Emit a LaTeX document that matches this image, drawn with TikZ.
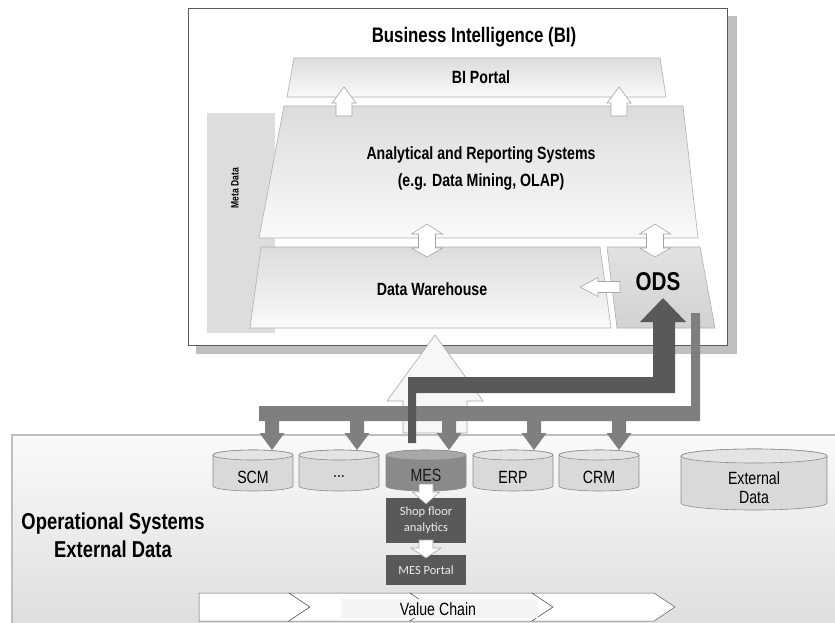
\documentclass[tikz,border=0pt]{standalone}
\usepackage{fontspec}
\setmainfont{Liberation Sans}[FakeStretch=0.8]
\newfontfamily\calib{Carlito}

\definecolor{boxline}{HTML}{595959}
\definecolor{shadowgray}{HTML}{BFBFBF}
\definecolor{metagray}{HTML}{DDDDDD}
\definecolor{layertop}{HTML}{DCDCDC}
\definecolor{layerline}{HTML}{B0B0B0}
\definecolor{odstop}{HTML}{E2E2E2}
\definecolor{odsbot}{HTML}{D2D2D2}
\definecolor{arrline}{HTML}{A6A6A6}
\definecolor{feedgray}{HTML}{7F7F7F}
\definecolor{darkgray}{HTML}{595959}
\definecolor{optop}{HTML}{FAFAFA}
\definecolor{opbot}{HTML}{DCDCDC}
\definecolor{opline}{HTML}{BFBFBF}
\definecolor{cylbody}{HTML}{D9D9D9}
\definecolor{cyltop}{HTML}{E4E4E4}
\definecolor{cylline}{HTML}{8C8C8C}
\definecolor{mesbody}{HTML}{8A8A8A}
\definecolor{mestop}{HTML}{A8A8A8}
\definecolor{chainlabel}{HTML}{F4F4F4}

% block arrow with a single head; works upwards and downwards
\newcommand\blkarrow[7]{%
  \path[#7] ({#1},#2) -- ({#1+#5},#3) -- ({#1+#6},#3) -- ({#1+#6},#4)
    -- ({#1-#6},#4) -- ({#1-#6},#3) -- ({#1-#5},#3) -- cycle;}
% vertical block arrow with heads at both ends
\newcommand\blkboth[7]{%
  \path[blockarrow] ({#1},#2) -- ({#1+#6},#3) -- ({#1+#7},#3) -- ({#1+#7},#4)
    -- ({#1+#6},#4) -- ({#1},#5) -- ({#1-#6},#4) -- ({#1-#7},#4)
    -- ({#1-#7},#3) -- ({#1-#6},#3) -- cycle;}
% database cylinder: centre x, top ellipse y, bottom ellipse y, rx, ry, body, top
\newcommand\dbcyl[7]{%
  \path[fill=#6, draw=cylline, line width=0.6pt] ({#1-#4},#2) -- ({#1-#4},#3)
    arc[start angle=180, end angle=360, x radius=#4pt, y radius=#5pt]
    -- ({#1+#4},#2)
    arc[start angle=0, end angle=180, x radius=#4pt, y radius=#5pt] -- cycle;
  \path[fill=#7, draw=cylline, line width=0.6pt] ({#1},#2)
    ellipse[x radius=#4pt, y radius=#5pt];}
% one chevron of the value chain
\newcommand\chevron[2]{%
  \path[chainstep] (#1,593) -- (#2,593) -- ({#2+21},607) -- (#2,621)
    -- (#1,621) -- ({#1+21},607) -- cycle;}

\begin{document}
\begin{tikzpicture}[x=1pt, y=-1pt,
  layer/.style={draw=layerline, line width=0.6pt, top color=layertop, bottom color=white!98!black},
  blockarrow/.style={fill=white, draw=arrline, line width=0.6pt},
  feed/.style={fill=feedgray},
  darkfeed/.style={fill=darkgray},
  boldlabel/.style={font=\fontsize{17.7}{20}\selectfont\bfseries, align=center, inner sep=0pt},
  cyllabel/.style={font=\fontsize{17.7}{20}\selectfont, align=center, inner sep=0pt},
  shopbox/.style={fill=darkgray, text=white!92!black, font=\calib\fontsize{12.5}{15}\selectfont,
    align=center, inner sep=0pt},
  chainstep/.style={fill=white, draw=boxline, line width=0.5pt}]
\useasboundingbox (0,0) rectangle (835,622);

% ---------- Business Intelligence frame ----------
\fill[shadowgray] (196,16) rectangle (737,354);
\path[fill=white, draw=boxline, line width=0.8pt] (188,8) rectangle (727,345);
\node[font=\fontsize{21}{24}\selectfont\bfseries, inner sep=0pt] (bi) at (474,37) {Business Intelligence (BI)};

% meta data strip
\fill[metagray] (207,113) rectangle (275,333);
\node[font=\fontsize{10.7}{12}\selectfont\bfseries, rotate=90, inner sep=0pt] (meta) at (235,188) {Meta Data};

% layers
\path[layer] (294,58) -- (660,58) -- (666,97) -- (287,97) -- cycle;
\path[layer] (284,106) -- (683,106) -- (698,238) -- (259,238) -- cycle;
\path[layer] (261,247) -- (600,247) -- (611,328) -- (250,328) -- cycle;
\path[draw=layerline, line width=0.6pt, top color=odstop, bottom color=odsbot]
  (607,247) -- (700,247) -- (715,328) -- (617,328) -- cycle;

\node[boldlabel] (portal) at (481,77) {BI Portal};
\node[boldlabel] (ana1) at (481,155) {Analytical and Reporting Systems};
\node[boldlabel] (ana2) at (481,182) {(e.g. Data Mining, OLAP)};
\node[boldlabel] (dw) at (432,289) {Data Warehouse};
\node[font=\fontsize{25.8}{30}\selectfont\bfseries, inner sep=0pt] (ods) at (658,282) {ODS};

% arrows between the layers
\blkarrow{344}{87}{103}{116}{12}{8}{blockarrow}
\blkarrow{619}{87}{103}{116}{12}{8}{blockarrow}
\blkboth{427}{224}{234}{248}{257}{15.5}{8.5}
\blkboth{655}{224}{234}{248}{257}{15.5}{8.5}
\path[blockarrow] (580,287) -- (598,277.5) -- (598,281.5) -- (620,281.5)
  -- (620,292.5) -- (598,292.5) -- (598,296.5) -- cycle;

% ---------- Operational systems ----------
\path[top color=optop, bottom color=opbot] (12,435) rectangle (845,640);
\draw[opline, line width=2pt] (845,435) -- (12,435) -- (12,640);

\dbcyl{253}{455}{486}{40}{5}{cylbody}{cyltop}
\dbcyl{339}{455}{486}{40}{5}{cylbody}{cyltop}
\dbcyl{426}{455}{486}{40}{5}{mesbody}{mestop}
\dbcyl{513}{455}{486}{40}{5}{cylbody}{cyltop}
\dbcyl{599}{455}{486}{40}{5}{cylbody}{cyltop}
\dbcyl{754}{456}{503}{73}{7}{cylbody}{cyltop}

\node[cyllabel] (scm) at (253,477) {SCM};
\node[cyllabel] (more) at (339,477) {...};
\node[cyllabel, text=black!90] (mes) at (426,475) {MES};
\node[cyllabel] (erp) at (513,477) {ERP};
\node[cyllabel] (crm) at (599,477) {CRM};
\node[cyllabel] (ext) at (754,488) {External\\[-1pt]Data};

% data flowing up into the warehouse
\path[fill=white!97!black, draw=arrline, line width=0.6pt]
  (435,335) -- (483,401) -- (467,401) -- (467,433) -- (403,433) -- (403,401) -- (387,401) -- cycle;

% feed from the operational data store back to the systems
\fill[feedgray] (259,421) -- (259,406) -- (691,406) -- (691,313) -- (700,313) -- (700,421) -- cycle;
\foreach \cx in {272,357,449,534,619}
  {\blkarrow{\cx}{450}{433}{420}{12.5}{7}{feed}}

% MES feeding the operational data store
\fill[darkgray] (408,443) -- (408,377) -- (653,377) -- (653,322) -- (640,322) -- (663,298)
  -- (686,322) -- (675,322) -- (675,393) -- (416,393) -- (416,443) -- cycle;

% shop floor chain
\node[shopbox, minimum width=80pt, minimum height=45pt] (shop) at (426,520.5) {Shop floor\\[1pt]analytics};
\node[shopbox, minimum width=80pt, minimum height=30pt] (mesportal) at (426,570) {MES Portal};
\blkarrow{426}{504}{492}{484}{13.5}{7}{blockarrow}
\blkarrow{426}{558}{548}{540}{15}{7}{blockarrow}

\node[font=\fontsize{23}{26}\selectfont\bfseries, align=center, inner sep=0pt] (ops) at (113,535)
  {Operational Systems\\[2pt]External Data};

% value chain
\path[chainstep] (199,593) -- (289,593) -- (310,607) -- (289,621) -- (199,621) -- cycle;
\chevron{289}{410}
\chevron{410}{532}
\chevron{532}{654}
\fill[chainlabel] (341,599) rectangle (538,618);
\node[cyllabel] (chain) at (438,609) {Value Chain};
\end{tikzpicture}
\end{document}
